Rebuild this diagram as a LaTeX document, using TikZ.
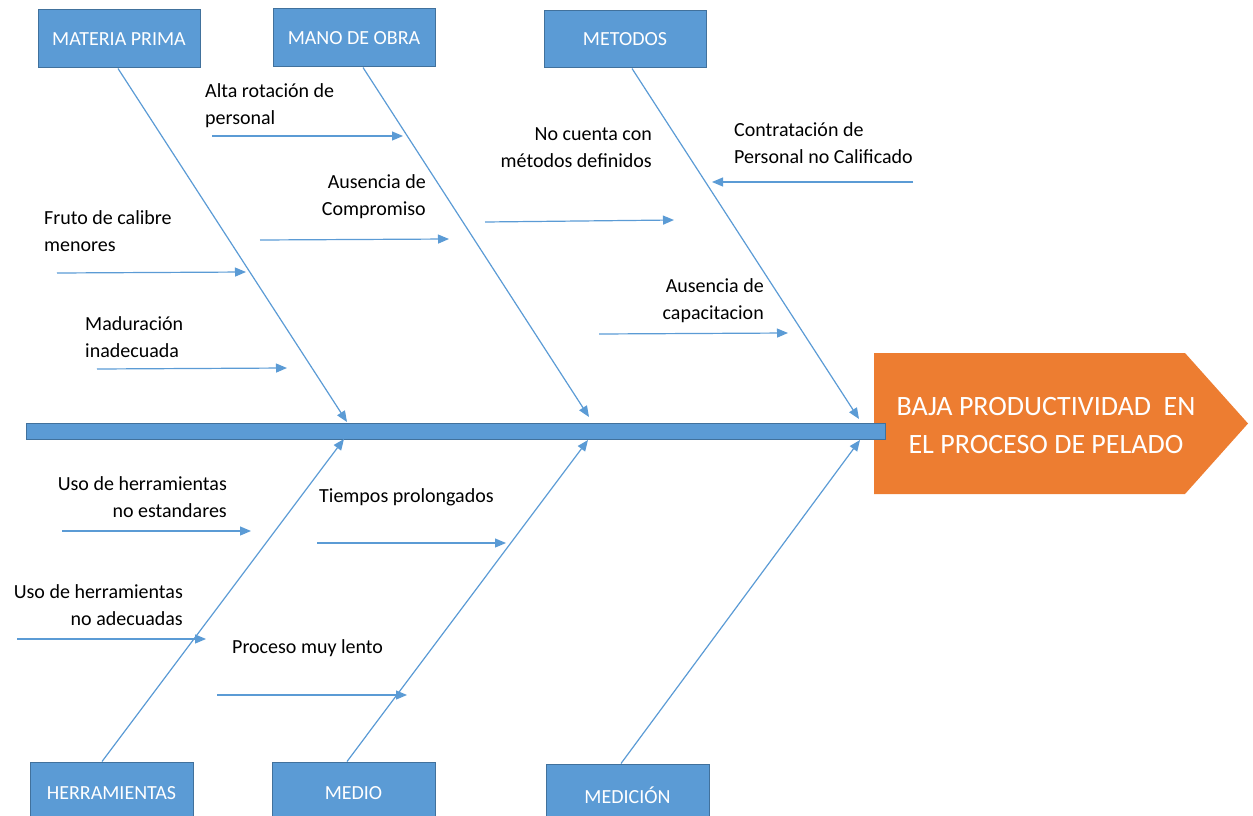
\documentclass[tikz,border=0pt]{standalone}
\usepackage{fontspec}
\setmainfont{Carlito}
\usetikzlibrary{arrows.meta}
\definecolor{boneblue}{HTML}{5B9BD5}
\definecolor{boxedge}{HTML}{41719C}
\definecolor{headorange}{HTML}{ED7D31}
\begin{document}
\begin{tikzpicture}[x=1pt,y=-1pt,
  catbox/.style={draw=boxedge, line width=1pt, fill=boneblue, text=white,
    font=\fontsize{20}{24}\selectfont, inner sep=0pt,
    minimum width=162pt, minimum height=58pt},
  bone/.style={draw=boneblue, line width=1.2pt, -{Triangle[length=11pt,width=9pt]}},
  cause/.style={font=\fontsize{20}{26.5}\selectfont, inner sep=0pt, text=black},
  causeL/.style={cause, align=left, anchor=base west},
  causeR/.style={cause, align=right, anchor=base east}]
\useasboundingbox (0,0) rectangle (1253,816);

% effect head (node base = baseline of its last line)
\fill[headorange] (874,353) -- (1185,353) -- (1248,423.5) -- (1185,494) -- (874,494) -- cycle;
\node (effect) [anchor=base, inner sep=0pt, text=white, align=center,
  font=\fontsize{28}{38}\selectfont] at (1046,453)
  {BAJA PRODUCTIVIDAD\ \ EN\\EL PROCESO DE PELADO};

% spine
\node (spine) [draw=boxedge, line width=1pt, fill=boneblue, inner sep=0pt,
  minimum width=859pt, minimum height=16pt, anchor=west] at (26,431) {};

% category boxes
\node (mp)  [catbox] at (119,39)     {MATERIA PRIMA};
\node (mo)  [catbox] at (354,38)     {MANO DE OBRA};
\node (met) [catbox, minimum height=57pt] at (625,39.5) {METODOS};
\node (her) [catbox, minimum height=62pt, minimum width=163pt] at (111.5,793) {HERRAMIENTAS};
\node (med) [catbox, minimum height=62pt, minimum width=163pt] at (353.5,793) {MEDIO};
\node (mdc) [catbox, minimum height=62pt, minimum width=163pt] at (627.5,795) {MEDICIÓN};

% bone tips on the spine
\coordinate (mpTip)  at (347,422);
\coordinate (moTip)  at (589,417);
\coordinate (metTip) at (859,419);
\coordinate (herTip) at (344,439);
\coordinate (medTip) at (588,440);
\coordinate (mdcTip) at (860,440);

\draw[bone] ([xshift=-1pt]mp.south)  -- (mpTip);
\draw[bone] ([xshift=9pt]mo.south)   -- (moTip);
\draw[bone] ([xshift=7pt]met.south)  -- (metTip);
\draw[bone] ([xshift=-9.5pt]her.north) -- (herTip);
\draw[bone] ([xshift=-6.5pt]med.north) -- (medTip);
\draw[bone] ([xshift=-6.5pt]mdc.north) -- (mdcTip);

% causes (placed at the baseline of the last line)
\node (c1)  [causeL] at (205,124) {Alta rotación de\\personal};
\node (c2)  [causeL] at (44,251)  {Fruto de calibre\\menores};
\node (c3)  [causeL] at (85,357)  {Maduración\\inadecuada};
\node (c4)  [causeR] at (426,215) {Ausencia de\\Compromiso};
\node (c5)  [causeR] at (652,167) {No cuenta con\\métodos definidos};
\node (c6)  [causeL] at (734,163) {Contratación de\\Personal no Calificado};
\node (c7)  [causeR] at (764,319) {Ausencia de\\capacitacion};
\node (c8)  [causeR] at (227,517) {Uso de herramientas\\no estandares};
\node (c9)  [causeL] at (319,502) {Tiempos prolongados};
\node (c10) [causeR] at (183,625) {Uso de herramientas\\no adecuadas};
\node (c11) [causeL] at (232,653) {Proceso muy lento};

\coordinate (a1s)  at (212,136); \coordinate (a1e)  at (403,136);
\coordinate (a2s)  at (57,273);  \coordinate (a2e)  at (246,272);
\coordinate (a3s)  at (97,369);  \coordinate (a3e)  at (287,368);
\coordinate (a4s)  at (260,240); \coordinate (a4e)  at (449,239);
\coordinate (a5s)  at (485,222); \coordinate (a5e)  at (674,220);
\coordinate (a6s)  at (913,182); \coordinate (a6e)  at (712,182);
\coordinate (a7s)  at (599,334); \coordinate (a7e)  at (788,333);
\coordinate (a8s)  at (62,531);  \coordinate (a8e)  at (251,531);
\coordinate (a9s)  at (317,543); \coordinate (a9e)  at (506,543);
\coordinate (a10s) at (17,639);  \coordinate (a10e) at (206,639);
\coordinate (a11s) at (217,695); \coordinate (a11e) at (407,695);

\foreach \i in {1,...,11} {\draw[bone] (a\i s) -- (a\i e);}
\end{tikzpicture}
\end{document}
